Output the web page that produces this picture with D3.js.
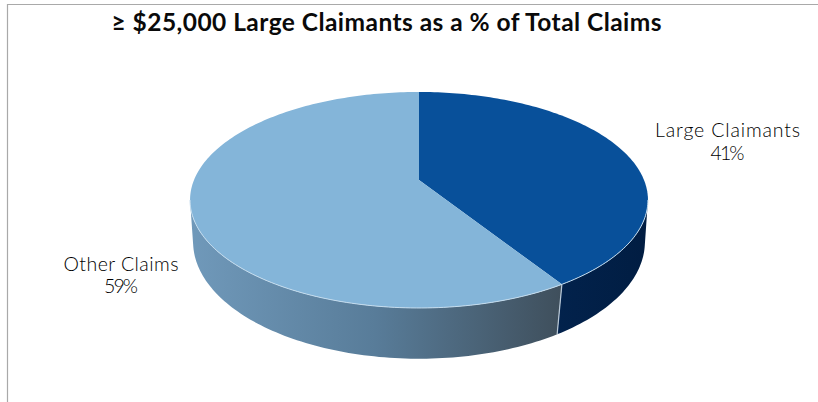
<!DOCTYPE html>
<html>
<head>
<meta charset="utf-8">
<script src="https://cdn.jsdelivr.net/npm/d3@7/dist/d3.min.js"></script>
<style>
  html, body { margin: 0; padding: 0; background: #fff; }
  svg { display: block; }
  text { font-family: "Lato", "Open Sans", sans-serif; }
</style>
</head>
<body>
<svg id="chart" width="818" height="402"></svg>
<script>
const chartTitle = "≥ $25,000 Large Claimants as a % of Total Claims";
const categories = ["Large Claimants", "Other Claims"];
const shares = [41, 59];
const topColors = ["#08509a", "#84b5d9"];
const sideColors = [["#02224c", "#011d42"], ["#7099ba", "#587c99", "#3f4f5c"]];

const svg = d3.select("#chart");
const width = 818, height = 402;

// Perspective projection of the disc: the near edge renders larger than the far one.
const topPlane = { cx: 419, cy: 180, a: 225, b: 104.3, k: 0.185 };
const basePlane = { cx: 419, cy: 223, a: 223, b: 114, k: 0.16 };

function project(plane, angle) {
  const u = Math.sin(angle), v = -Math.cos(angle);
  const w = 1 - plane.k * v;
  return [plane.cx + plane.a * u / w, plane.cy + plane.b * v / w];
}
function arcPoints(plane, a0, a1) {
  const n = Math.max(2, Math.ceil(Math.abs(a1 - a0) / 0.02));
  return d3.range(n + 1).map(i => project(plane, a0 + (a1 - a0) * i / n));
}
const line = d3.line();

const slices = d3.pie().sort(null).value(d => d)(shares);

// Frame along the top and left edges
svg.append("path")
  .attr("d", line([[7.5, height], [7.5, 4.5], [width, 4.5]]))
  .attr("fill", "none").attr("stroke", "#a9a9a9").attr("stroke-width", 1.2);

// Shading of the outer wall runs left to right
const defs = svg.append("defs");
slices.forEach((s, i) => {
  const stops = d3.scaleLinear().domain([0, sideColors[i].length - 1]).range([0, 1]);
  const bounds = i === 0 ? [557, 648] : [190, 561];
  const grad = defs.append("linearGradient")
    .attr("id", "wall" + i).attr("gradientUnits", "userSpaceOnUse")
    .attr("x1", bounds[0]).attr("x2", bounds[1]).attr("y1", 0).attr("y2", 0);
  sideColors[i].forEach((c, j) => grad.append("stop").attr("offset", stops(j)).attr("stop-color", c));
});

// Only the near half of the wall is visible
const silhouetteTop = Math.acos(topPlane.k);
slices.forEach((s, i) => {
  const a0 = Math.max(s.startAngle, Math.PI - silhouetteTop);
  const a1 = Math.min(s.endAngle, Math.PI + silhouetteTop);
  const pts = arcPoints(topPlane, a0, a1).concat(arcPoints(basePlane, a1, a0));
  svg.append("path")
    .attr("d", line(pts) + "Z")
    .attr("fill", `url(#wall${i})`);
});

// Light seam where the two wall sections meet
const seam = slices[0].endAngle;
svg.append("path")
  .attr("d", line([project(topPlane, seam), project(basePlane, seam)]))
  .attr("stroke", "#b9c9d8").attr("stroke-width", 1.2).attr("fill", "none");

// Top face of the disc
slices.forEach((s, i) => {
  const pts = [[topPlane.cx, topPlane.cy]].concat(arcPoints(topPlane, s.startAngle, s.endAngle));
  svg.append("path")
    .attr("d", line(pts) + "Z")
    .attr("fill", topColors[i]);
});

// Highlight on the near rim
svg.append("path")
  .attr("d", line(arcPoints(topPlane, Math.PI - silhouetteTop, Math.PI + silhouetteTop)))
  .attr("fill", "none").attr("stroke", "#c4dcee").attr("stroke-width", 1);

// Title, spaced out to the wide measure of the heading
svg.append("text")
  .attr("x", 386.5).attr("y", 31)
  .attr("text-anchor", "middle")
  .attr("font-size", 24.5).attr("font-weight", 700)
  .attr("fill", "#0a0a0a")
  .attr("textLength", 550).attr("lengthAdjust", "spacing")
  .text(chartTitle);

// Category labels, each with its share beneath
const labelAnchors = [[727.5, 137, 160, 145], [121, 271, 293, 115]];
slices.forEach((s, i) => {
  const [x, y1, y2, measure] = labelAnchors[i];
  const g = svg.append("g").attr("fill", "#000")
    .attr("font-size", 19.5).attr("font-weight", 300).attr("text-anchor", "middle");
  g.append("text").attr("x", x).attr("y", y1)
    .attr("textLength", measure).attr("lengthAdjust", "spacing").text(categories[i]);
  g.append("text").attr("x", x).attr("y", y2)
    .attr("textLength", 34).attr("lengthAdjust", "spacing").text(s.value + "%");
});
</script>
</body>
</html>
